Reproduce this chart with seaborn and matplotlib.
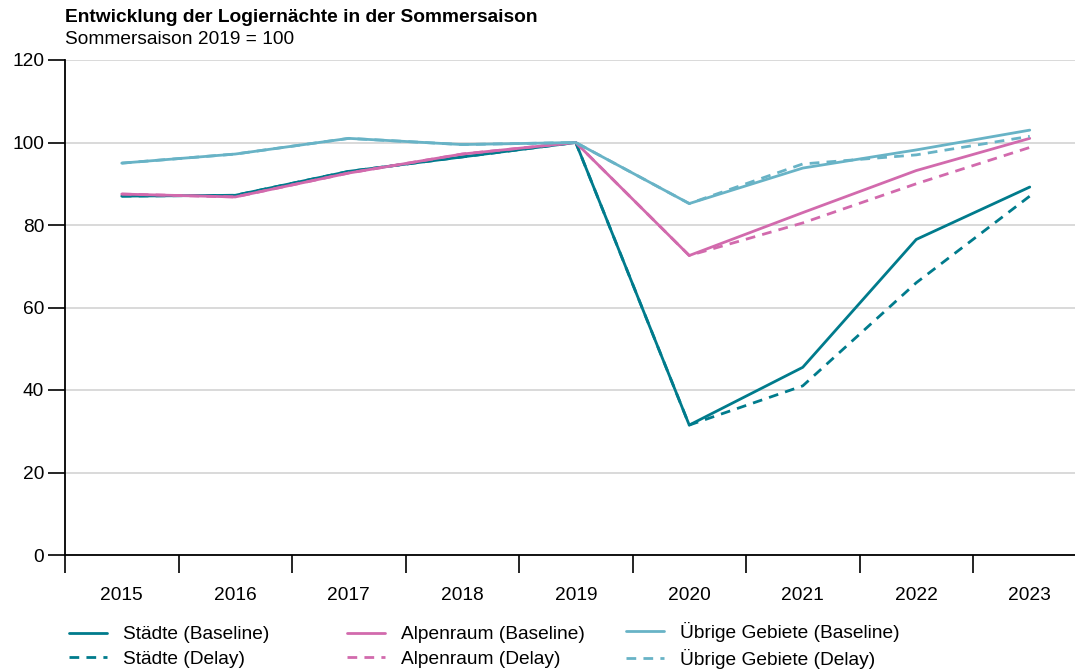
import matplotlib
matplotlib.use("Agg")
import matplotlib.pyplot as plt
import seaborn as sns
import pandas as pd
from matplotlib.ticker import FixedLocator, NullFormatter

years = [2015, 2016, 2017, 2018, 2019, 2020, 2021, 2022, 2023]
staedte_base = [87.0, 87.2, 93.0, 96.5, 100.0, 31.5, 45.5, 76.5, 89.2]
staedte_delay = [87.0, 87.2, 93.0, 96.5, 100.0, 31.5, 41.0, 66.0, 87.0]
alpen_base = [87.5, 86.8, 92.6, 97.2, 100.0, 72.6, 83.0, 93.2, 101.0]
alpen_delay = [87.5, 86.8, 92.6, 97.2, 100.0, 72.6, 80.5, 90.0, 98.8]
uebrige_base = [95.0, 97.2, 101.0, 99.5, 100.0, 85.2, 93.8, 98.2, 103.0]
uebrige_delay = [95.0, 97.2, 101.0, 99.5, 100.0, 85.2, 94.8, 97.0, 101.5]

regions = ["Städte", "Alpenraum", "Übrige Gebiete"]
scenarios = ["Baseline", "Delay"]
series = {
    ("Städte", "Baseline"): staedte_base,
    ("Städte", "Delay"): staedte_delay,
    ("Alpenraum", "Baseline"): alpen_base,
    ("Alpenraum", "Delay"): alpen_delay,
    ("Übrige Gebiete", "Baseline"): uebrige_base,
    ("Übrige Gebiete", "Delay"): uebrige_delay,
}
rows = []
for (reg, sc), vals in series.items():
    for y, v in zip(years, vals):
        rows.append({"Jahr": y, "Wert": v, "Label": f"{reg} ({sc})"})
df = pd.DataFrame(rows)
labels = [f"{r} ({s})" for r in regions for s in scenarios]

colors = {"Städte": "#007b8c", "Alpenraum": "#d26aad", "Übrige Gebiete": "#68b3c6"}
palette = {f"{r} ({s})": colors[r] for r in regions for s in scenarios}
dashes = {f"{r} ({s})": ("" if s == "Baseline" else (3.5, 2.6)) for r in regions for s in scenarios}

sns.set_theme(style="white")
plt.rcParams["font.family"] = ["Liberation Sans", "DejaVu Sans"]
plt.rcParams["text.color"] = "black"
plt.rcParams["xtick.color"] = "black"
plt.rcParams["ytick.color"] = "black"

FS = 13.8
fig = plt.figure(figsize=(10.75, 6.7), dpi=100)
W, H = 1075, 670
spacing = 113.5
ax = fig.add_axes([65 / W, (H - 555) / H, (W - 65) / W, (555 - 60) / H])

sns.lineplot(data=df, x="Jahr", y="Wert", hue="Label", style="Label",
             hue_order=labels, style_order=labels, palette=palette,
             dashes=dashes, linewidth=2.0, ax=ax, legend=True)

ax.set_xlim(2014.5, 2014.5 + (W - 65) / spacing)
ax.set_ylim(0, 120)
ax.set_yticks([0, 20, 40, 60, 80, 100, 120])
ax.set_xticks(years)
ax.xaxis.set_minor_locator(FixedLocator([2014.5 + k for k in range(10)]))
ax.xaxis.set_minor_formatter(NullFormatter())
ax.tick_params(axis="x", which="major", length=0, pad=23, labelsize=FS, labelcolor="black")
ax.tick_params(axis="x", which="minor", length=13, width=1.2, color="black", bottom=True)
ax.tick_params(axis="y", which="major", length=12, width=1.2, color="black", left=True,
               labelsize=FS, pad=3, labelcolor="black")
ax.grid(axis="y", color="#d3d3d3", linewidth=1.2)
ax.grid(axis="x", visible=False)
for s in ["top", "right"]:
    ax.spines[s].set_visible(False)
for s in ["left", "bottom"]:
    ax.spines[s].set_color("black")
    ax.spines[s].set_linewidth(1.3)
ax.set_xlabel("")
ax.set_ylabel("")

handles, lbls = ax.get_legend_handles_labels()
ax.get_legend().remove()
hmap = dict(zip(lbls, handles))
for h in handles:
    h.set_linewidth(2.0)
col_x = [69, 347, 626]
col_top = [626, 626, 622]
for i, reg in enumerate(regions):
    names = [f"{reg} ({s})" for s in scenarios]
    fig.legend([hmap[n] for n in names], names, loc="upper left",
               bbox_to_anchor=(col_x[i] / W, 1 - col_top[i] / H), frameon=False,
               fontsize=FS, handlelength=2.0, handletextpad=0.8,
               labelspacing=0.36, borderpad=0, borderaxespad=0, labelcolor="black")

fig.text(65 / W, 1 - 18 / H, "Entwicklung der Logiernächte in der Sommersaison",
         fontsize=FS, fontweight="bold", va="center", ha="left", color="black")
fig.text(65 / W, 1 - 40 / H, "Sommersaison 2019 = 100",
         fontsize=FS, va="center", ha="left", color="black")

fig.savefig("out.png", dpi=100)
